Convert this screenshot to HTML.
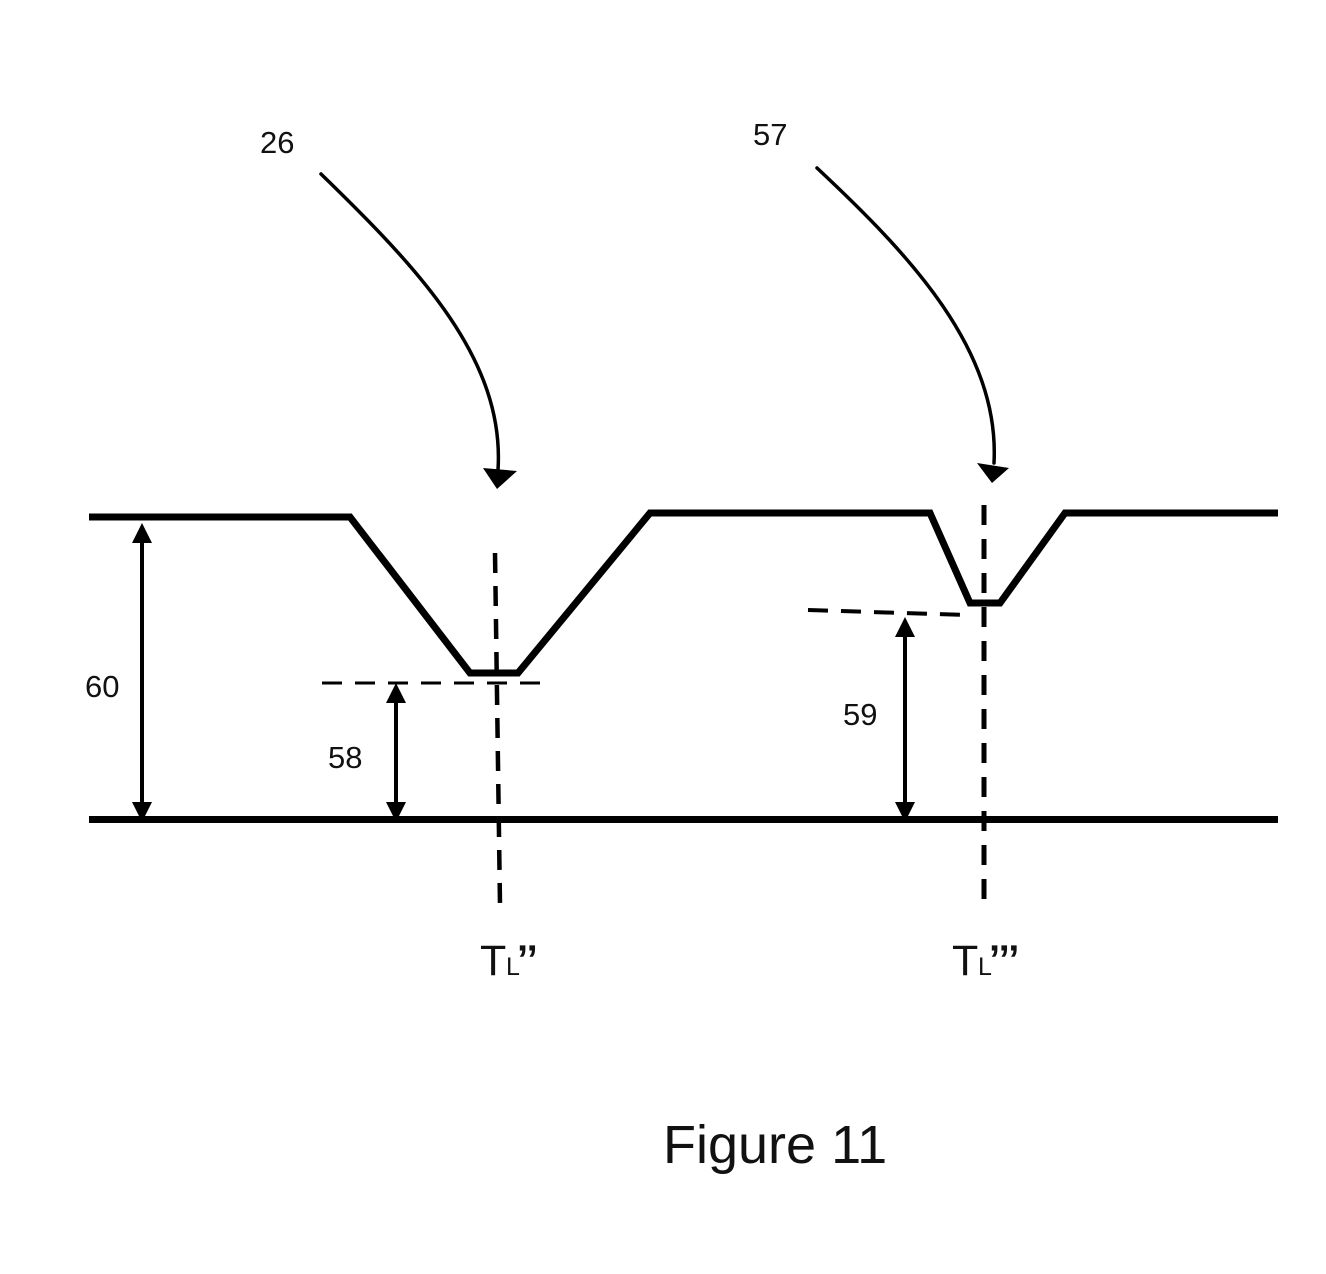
<!DOCTYPE html>
<html>
<head>
<meta charset="utf-8">
<style>
  html, body { margin: 0; padding: 0; background: #fff; }
  svg { display: block; }
  text { font-family: "Liberation Sans", "DejaVu Sans", sans-serif; fill: #111; }
</style>
</head>
<body>
<svg width="1326" height="1274" viewBox="0 0 1326 1274" xmlns="http://www.w3.org/2000/svg">
  <rect width="1326" height="1274" fill="#fff"/>

  <!-- profile line -->
  <polyline points="89,517 350,517 470,673 518,673 650,513 930,513 970,603 1000,603 1065,513 1278,513"
            fill="none" stroke="#000" stroke-width="7" stroke-linejoin="miter"/>
  <!-- bottom line -->
  <line x1="89" y1="819.5" x2="1278" y2="819.5" stroke="#000" stroke-width="7"/>

  <!-- dashed lines -->
  <line x1="322" y1="683" x2="542" y2="683" stroke="#000" stroke-width="3" stroke-dasharray="20 13"/>
  <line x1="808" y1="610" x2="967" y2="615" stroke="#000" stroke-width="4" stroke-dasharray="20 13"/>
  <line x1="495" y1="553" x2="500" y2="905" stroke="#000" stroke-width="4.5" stroke-dasharray="20 13"/>
  <line x1="984" y1="505" x2="984" y2="903" stroke="#000" stroke-width="5" stroke-dasharray="20 14"/>

  <!-- dimension arrow 60 -->
  <line x1="142" y1="540" x2="142" y2="805" stroke="#000" stroke-width="4"/>
  <polygon points="142,523 132,543 152,543" fill="#000"/>
  <polygon points="142,822 132,802 152,802" fill="#000"/>

  <!-- dimension arrow 58 -->
  <line x1="396" y1="700" x2="396" y2="805" stroke="#000" stroke-width="4"/>
  <polygon points="396,683 386,703 406,703" fill="#000"/>
  <polygon points="396,822 386,802 406,802" fill="#000"/>

  <!-- dimension arrow 59 -->
  <line x1="905" y1="634" x2="905" y2="805" stroke="#000" stroke-width="4"/>
  <polygon points="905,617 895,637 915,637" fill="#000"/>
  <polygon points="905,822 895,802 915,802" fill="#000"/>

  <!-- curved leader arrows -->
  <path d="M321,174 C420,270 505,360 498,470" fill="none" stroke="#000" stroke-width="3.5" stroke-linecap="round"/>
  <polygon points="483,468 517,471 497,489" fill="#000"/>
  <path d="M817,168 C910,255 1000,350 994,463" fill="none" stroke="#000" stroke-width="3.5" stroke-linecap="round"/>
  <polygon points="977,463 1009,468 992,483" fill="#000"/>

  <!-- labels -->
  <text x="260" y="153" font-size="31">26</text>
  <text x="753" y="145" font-size="31">57</text>
  <text x="85" y="697" font-size="31">60</text>
  <text x="328" y="768" font-size="31">58</text>
  <text x="843" y="725" font-size="31">59</text>

  <!-- TL'' -->
  <text x="480" y="975" font-size="43">T</text>
  <text x="506" y="975" font-size="25">L</text>
  <text x="517" y="973" font-size="40" font-weight="bold">’’</text>

  <!-- TL''' -->
  <text x="952" y="975" font-size="43">T</text>
  <text x="978" y="975" font-size="25">L</text>
  <text x="989" y="973" font-size="40" font-weight="bold">’’’</text>

  <!-- caption -->
  <text x="663" y="1163" font-size="54">Figure 11</text>
</svg>
</body>
</html>
